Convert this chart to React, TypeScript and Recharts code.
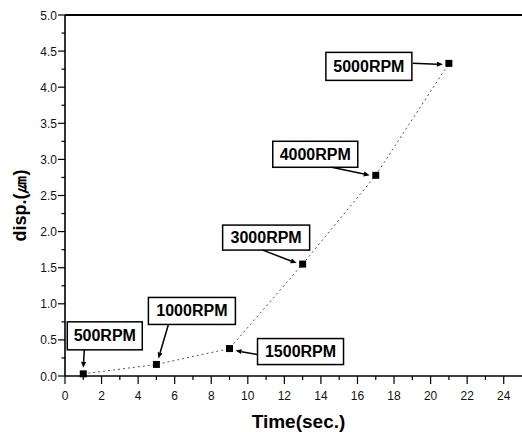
import {
  LineChart,
  Line,
  XAxis,
  YAxis,
  Label,
  LabelList,
  ReferenceLine,
} from "recharts";

const TIME_SEC = [1, 5, 9, 13, 17, 21];
const DISP_UM = [0.03, 0.16, 0.38, 1.55, 2.78, 4.33];
const RPM = ["500RPM", "1000RPM", "1500RPM", "3000RPM", "4000RPM", "5000RPM"];

const X_TICKS = [
  0, 1, 2, 3, 4, 5, 6, 7, 8, 9, 10, 11, 12, 13, 14, 15, 16, 17, 18, 19, 20,
  21, 22, 23, 24,
];
const Y_TICKS = [
  0, 0.25, 0.5, 0.75, 1, 1.25, 1.5, 1.75, 2, 2.25, 2.5, 2.75, 3, 3.25, 3.5,
  3.75, 4, 4.25, 4.5, 4.75, 5,
];

const data = TIME_SEC.map((t, i) => ({
  time: t,
  disp: DISP_UM[i],
  rpm: RPM[i],
}));

// where each callout box and its arrow sit, relative to the marker (px)
const CALLOUTS: Record<string, number[]> = {
  // bx, by, bw, bh, ax1, ay1, ax2, ay2
  "500RPM": [-16, -52, 75, 28, 1, -24, 0, -6],
  "1000RPM": [-8, -67, 87, 27, 12, -40, 2, -6],
  "1500RPM": [28, -10, 86, 26, 28, 6, 6, 2],
  "3000RPM": [-80, -39, 87, 25, -40, -14, -6, -1],
  "4000RPM": [-103, -34, 85, 26, -44, -8, -6, 0],
  "5000RPM": [-123, -11, 86, 28, -36, 0, -6, 1],
};

const FONT = "'Liberation Sans', Arial, Helvetica, sans-serif";

function XTick(props: any) {
  const { x, y, payload } = props;
  const major = payload.value % 2 === 0;
  return (
    <g>
      <line x1={x} x2={x} y1={y} y2={y + (major ? 8 : 4)} stroke="#000" strokeWidth={1.2} />
      {major && (
        <text x={x} y={y + 24} textAnchor="middle" fontSize={12} fontFamily={FONT} fill="#111">
          {payload.value}
        </text>
      )}
    </g>
  );
}

function YTick(props: any) {
  const { x, y, payload } = props;
  const major = Math.round(payload.value * 100) % 50 === 0;
  return (
    <g>
      <line x1={x - (major ? 7 : 3.5)} x2={x} y1={y} y2={y} stroke="#000" strokeWidth={1.2} />
      {major && (
        <text x={x - 8} y={y + 4.5} textAnchor="end" fontSize={12} fontFamily={FONT} fill="#111">
          {payload.value.toFixed(1)}
        </text>
      )}
    </g>
  );
}

function Square(props: any) {
  const { cx, cy, index } = props;
  return <rect key={`sq-${index}`} x={cx - 3.5} y={cy - 3.5} width={7} height={7} fill="#000" />;
}

function Callout(props: any) {
  const { x, y, value } = props;
  const c = CALLOUTS[value];
  if (!c) return null;
  const [bx, by, bw, bh, ax1, ay1, ax2, ay2] = c;
  const x1 = x + ax1;
  const y1 = y + ay1;
  const x2 = x + ax2;
  const y2 = y + ay2;
  const len = Math.hypot(x2 - x1, y2 - y1);
  const ux = (x2 - x1) / len;
  const uy = (y2 - y1) / len;
  const hx = x2 - ux * 6;
  const hy = y2 - uy * 6;
  const head = `${x2},${y2} ${hx - uy * 2.5},${hy + ux * 2.5} ${hx + uy * 2.5},${hy - ux * 2.5}`;
  return (
    <g>
      <rect
        x={x + bx}
        y={y + by}
        width={bw}
        height={bh}
        fill="#fff"
        stroke="#000"
        strokeWidth={1.5}
      />
      <text
        x={x + bx + bw / 2}
        y={y + by + bh / 2 + 5.5}
        textAnchor="middle"
        fontSize={16}
        fontWeight="bold"
        fontFamily={FONT}
        fill="#000"
      >
        {value}
      </text>
      <line x1={x1} y1={y1} x2={hx} y2={hy} stroke="#000" strokeWidth={1.5} />
      <polygon points={head} fill="#000" />
    </g>
  );
}

export default function App() {
  return (
    <div
      style={{
        position: "absolute",
        left: 0,
        top: 0,
        width: 522,
        height: 432,
        background: "#fff",
      }}
    >
      <LineChart
        width={522}
        height={432}
        data={data}
        margin={{ top: 15, right: 0, bottom: 0, left: 0 }}
      >
        <XAxis
          dataKey="time"
          type="number"
          domain={[0, 25]}
          ticks={X_TICKS}
          interval={0}
          height={56}
          tickSize={0}
          tickMargin={0}
          tickLine={false}
          tick={<XTick />}
          axisLine={{ stroke: "#000", strokeWidth: 1.6 }}
        >
          <Label
            value="Time(sec.)"
            position="insideBottom"
            offset={4}
            dx={5}
            style={{
              fontSize: 19,
              fontWeight: "bold",
              fontFamily: FONT,
              fill: "#000",
            }}
          />
        </XAxis>
        <YAxis
          type="number"
          domain={[0, 5]}
          ticks={Y_TICKS}
          interval={0}
          width={65}
          tickSize={0}
          tickMargin={0}
          tickLine={false}
          tick={<YTick />}
          axisLine={{ stroke: "#000", strokeWidth: 1.6 }}
        >
          <Label
            content={(p: any) => {
              const vb = p.viewBox;
              const cx = vb.x + 20;
              const cy = vb.y + vb.height / 2 + 10;
              return (
                <text
                  x={cx}
                  y={cy}
                  transform={`rotate(-90 ${cx} ${cy})`}
                  textAnchor="middle"
                  dominantBaseline="central"
                  fontSize={18}
                  fontWeight="bold"
                  fontFamily={FONT}
                  fill="#000"
                >
                  disp.(㎛)
                </text>
              );
            }}
          />
        </YAxis>
        <ReferenceLine y={5} stroke="#000" strokeWidth={2} />
        <Line
          dataKey="disp"
          type="linear"
          stroke="#555"
          strokeWidth={1}
          strokeDasharray="2 3"
          dot={Square}
          activeDot={false}
          isAnimationActive={false}
        >
          <LabelList dataKey="rpm" content={Callout} />
        </Line>
      </LineChart>
    </div>
  );
}
